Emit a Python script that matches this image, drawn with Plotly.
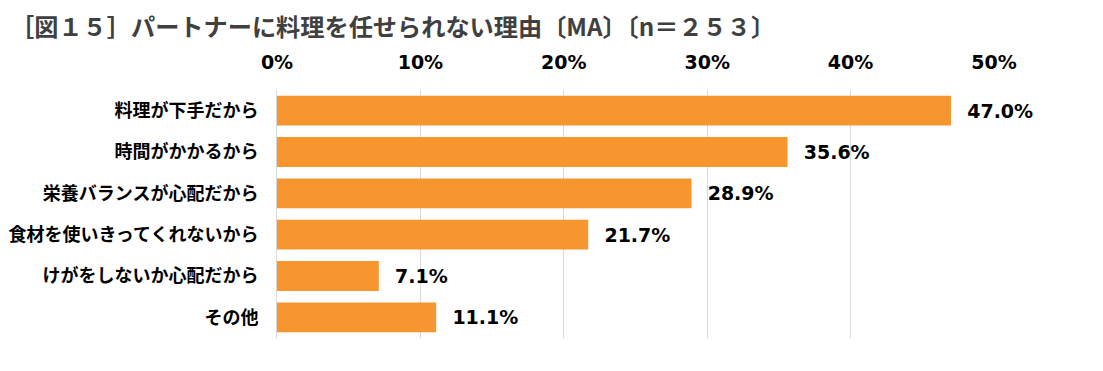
import plotly.graph_objects as go

categories = ["料理が下手だから", "時間がかかるから", "栄養バランスが心配だから",
              "食材を使いきってくれないから", "けがをしないか心配だから", "その他"]
values = [47.0, 35.6, 28.9, 21.7, 7.1, 11.1]
tick_vals = [0, 10, 20, 30, 40, 50]
tick_text = ["0%", "10%", "20%", "30%", "40%", "50%"]
title = "［図１５］パートナーに料理を任せられない理由〔MA〕〔n＝２５３〕"

FONT = "DejaVu Sans, Noto Sans CJK JP, sans-serif"
JP = "Noto Sans CJK JP, sans-serif"

fig = go.Figure(go.Bar(
    x=values, y=categories, orientation="h",
    marker=dict(color="#F7952F", line=dict(width=0)),
    text=[f"  {v:.1f}%" for v in values], textposition="outside",
    textfont=dict(family=FONT, size=19, color="#000000", weight="bold"),
    constraintext="none",
    cliponaxis=False, width=0.72,
))

fig.add_annotation(
    text=title, xref="paper", yref="paper", x=-269 / 717, y=1.262,
    xanchor="left", yanchor="middle", showarrow=False,
    font=dict(family=JP, size=24.2, color="#404040", weight="bold"),
)

fig.update_layout(
    width=1103, height=371,
    margin=dict(l=269, r=117, t=82, b=41),
    paper_bgcolor="white", plot_bgcolor="white",
    showlegend=False,
    xaxis=dict(range=[0, 50], side="top", tickvals=tick_vals, ticktext=tick_text,
               showgrid=True, gridcolor="#D9D9D9", gridwidth=1, zeroline=False,
               showline=False, ticks="", ticklabelstandoff=16, automargin=False,
               tickfont=dict(family=FONT, size=19, color="#000000", weight="bold")),
    yaxis=dict(autorange="reversed", showline=True, linecolor="#D9D9D9", linewidth=1,
               ticks="", ticklabelstandoff=14, showgrid=False, automargin=False,
               tickfont=dict(family=JP, size=18, color="#000000", weight="bold")),
)

fig.write_html("out.html")
